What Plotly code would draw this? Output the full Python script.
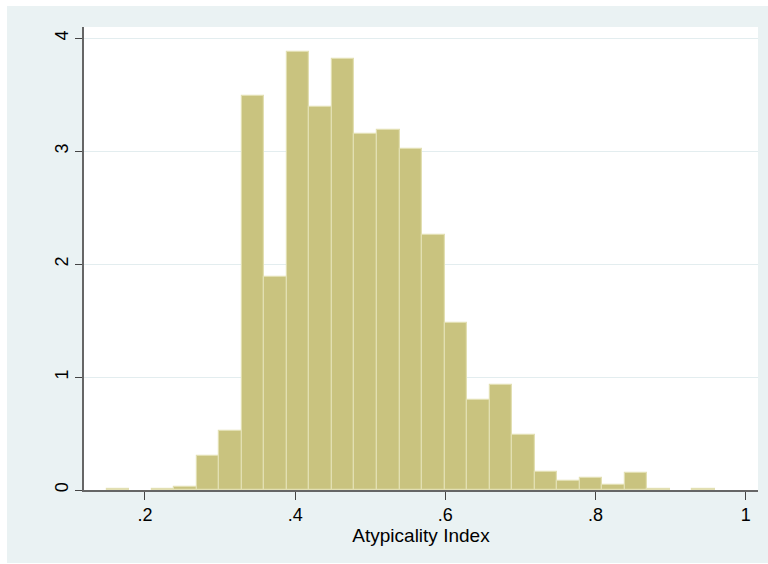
import plotly.graph_objects as go

# Histogram of the Atypicality Index (density per bin; None = empty bin)
bin_centers = [0.164, 0.194, 0.224, 0.254, 0.284, 0.314, 0.344, 0.374, 0.404,
               0.434, 0.464, 0.494, 0.524, 0.554, 0.584, 0.614, 0.644, 0.674,
               0.704, 0.734, 0.764, 0.794, 0.824, 0.854, 0.884, 0.914, 0.944]
density = [0.01, None, 0.01, 0.03, 0.30, 0.52, 3.49, 1.89, 3.88,
           3.39, 3.82, 3.15, 3.19, 3.02, 2.26, 1.48, 0.80, 0.93,
           0.49, 0.16, 0.08, 0.11, 0.045, 0.15, 0.01, None, 0.01]
bin_width = 0.03

x_ticks = [0.2, 0.4, 0.6, 0.8, 1.0]
x_tick_labels = [".2", ".4", ".6", ".8", "1"]
y_ticks = [0, 1, 2, 3, 4]
y_tick_labels = ["0", "1", "2", "3", "4"]

BG = "#EAF2F3"
FONT = "Liberation Sans, Arial, sans-serif"

fig = go.Figure()
fig.add_trace(go.Bar(
    x=bin_centers, y=density, width=bin_width,
    marker=dict(color="rgb(201,195,127)",
                line=dict(color="rgb(226,223,178)", width=1.2)),
    showlegend=False, hoverinfo="x+y",
))

fig.update_layout(
    width=768, height=564,
    margin=dict(l=84, r=10, t=27, b=74),
    paper_bgcolor="white",
    plot_bgcolor="rgba(0,0,0,0)",
    bargap=0,
    font=dict(family=FONT, color="black"),
    shapes=[
        dict(type="rect", xref="paper", yref="paper",
             x0=-0.1142, x1=1.0148, y0=-0.1577, y1=1.0454,
             fillcolor=BG, line=dict(width=0), layer="below"),
        dict(type="rect", xref="paper", yref="paper",
             x0=0, x1=1, y0=0, y1=1,
             fillcolor="white", line=dict(width=0), layer="below"),
    ],
    xaxis=dict(
        range=[0.1188, 1.0164],
        tickvals=x_ticks, ticktext=x_tick_labels,
        ticks="outside", ticklen=8, tickcolor="#444", tickwidth=1,
        showline=True, linecolor="#666", linewidth=1.5,
        showgrid=False, zeroline=False,
        tickfont=dict(size=18),
        title=dict(text="Atypicality Index", font=dict(size=19), standoff=0),
    ),
    yaxis=dict(
        range=[0, 4.10],
        tickvals=y_ticks, ticktext=y_tick_labels,
        tickangle=-90,
        ticks="outside", ticklen=7, tickcolor="#444", tickwidth=1,
        showline=True, linecolor="#666", linewidth=1.5,
        showgrid=True, gridcolor="#E3EDEF", gridwidth=1.2,
        zeroline=False,
        tickfont=dict(size=18),
    ),
)

fig.write_html("out.html")
